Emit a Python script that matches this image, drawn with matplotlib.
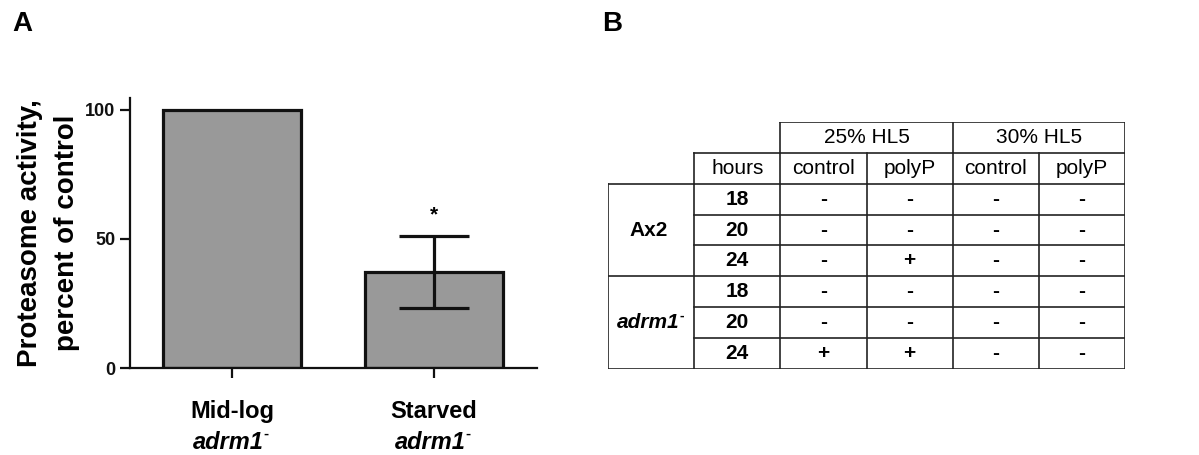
import matplotlib
matplotlib.use("Agg")
import matplotlib.pyplot as plt
from matplotlib.transforms import blended_transform_factory

plt.rcParams['font.family'] = ['Liberation Sans', 'DejaVu Sans']

# ---- data panel A ----
categories = ["Mid-log", "Starved"]
strain_label = "adrm1"
strain_sup = "-"
values = [100.0, 37.2]
err_low = [0.0, 13.9]
err_high = [0.0, 14.0]
show_err = [False, True]
signif = ["", "*"]
yticks = [0, 50, 100]

# ---- data panel B ----
group_headers = ["25% HL5", "30% HL5"]
sub_headers = ["hours", "control", "polyP", "control", "polyP"]
strains = ["Ax2", "adrm1"]
strain_italic = [False, True]
strain_sups = ["", "-"]
hours = ["18", "20", "24"]
results = {
    "Ax2": [["-", "-", "-", "-"],
            ["-", "-", "-", "-"],
            ["-", "+", "-", "-"]],
    "adrm1": [["-", "-", "-", "-"],
              ["-", "-", "-", "-"],
              ["+", "+", "-", "-"]],
}

fig = plt.figure(figsize=(11.99, 4.55), dpi=100)


def add_sup(ax_, text_artist, sup, fs):
    if sup:
        ax_.annotate(sup, xy=(1.0, 0.88), xycoords=text_artist, ha="left", va="center",
                     fontsize=fs, fontweight="bold")


# ---------------- Panel A ----------------
ax = fig.add_axes([0.1084, 0.1912, 0.3395, 0.5934])
x = list(range(len(categories)))
ax.bar(x, values, width=0.68, color="#999999", edgecolor="#111111", linewidth=2.3, zorder=2)
for xi, v, lo, hi, s in zip(x, values, err_low, err_high, show_err):
    if s:
        ax.errorbar([xi], [v], yerr=[[lo], [hi]], fmt="none", ecolor="#111111",
                    elinewidth=2.3, capsize=25, capthick=2.3, zorder=3)
for xi, v, hi, t in zip(x, values, err_high, signif):
    if t:
        ax.annotate(t, (xi, v + hi), xytext=(0, 8), textcoords="offset points",
                    ha="center", va="bottom", fontsize=15, fontweight="bold")
ax.set_xlim(-0.505, 1.51)
ax.set_ylim(0, 104.6)
ax.set_yticks(yticks)
ax.set_yticklabels([str(t) for t in yticks], fontsize=13, fontweight="bold")
ax.set_xticks(x)
ax.set_xticklabels([])
for s in ["top", "right"]:
    ax.spines[s].set_visible(False)
for s in ["left", "bottom"]:
    ax.spines[s].set_linewidth(1.6)
    ax.spines[s].set_color("#111111")
ax.tick_params(axis="both", direction="out", length=7, width=1.6, colors="#111111")
ax.set_ylabel("Proteasome activity,\npercent of control", fontsize=20,
              fontweight="bold", labelpad=4, linespacing=1.55)
tr = blended_transform_factory(ax.transData, ax.transAxes)
for xi, c in zip(x, categories):
    ax.text(xi, -0.12, c, transform=tr, ha="center", va="top",
            fontsize=17, fontweight="bold")
    t2 = ax.text(xi - 0.02, -0.235, strain_label, transform=tr, ha="center", va="top",
                 fontsize=17, fontweight="bold", fontstyle="italic")
    add_sup(ax, t2, strain_sup, 11)

fig.text(0.010, 0.975, "A", fontsize=20, fontweight="bold", va="top", ha="left")
fig.text(0.502, 0.975, "B", fontsize=20, fontweight="bold", va="top", ha="left")

# ---------------- Panel B (table) ----------------
tb = fig.add_axes([0.5071, 0.189, 0.4312, 0.5429])
ncol, nrow = 6, 8
tb.set_xlim(0, ncol)
tb.set_ylim(nrow, 0)
tb.axis("off")
lc = "#222222"
lw = 1.2


def hl(y, x0, x1):
    tb.plot([x0, x1], [y, y], color=lc, lw=lw, solid_capstyle="projecting")


def vl(xv, y0, y1):
    tb.plot([xv, xv], [y0, y1], color=lc, lw=lw, solid_capstyle="projecting")


hl(0, 2, 6)
for xv in [2, 4, 6]:
    vl(xv, 0, 1)
hl(1, 1, 6)
for xv in range(1, 7):
    vl(xv, 1, 2)
hl(2, 0, 6)
for xv in range(0, 7):
    vl(xv, 2, 8)
nh = len(hours)
for gi in range(len(strains)):
    top = 2 + gi * nh
    for r in range(1, nh):
        hl(top + r, 1, 6)
    hl(top + nh, 0, 6)

fs = 15
for gi, g in enumerate(group_headers):
    tb.text(2 + 2 * gi + 1, 0.5, g, ha="center", va="center", fontsize=fs)
for ci, h in enumerate(sub_headers):
    tb.text(1 + ci + 0.5, 1.5, h, ha="center", va="center", fontsize=fs)
for gi, s in enumerate(strains):
    top = 2 + gi * nh
    ts = tb.text(0.47, top + nh / 2, s, ha="center", va="center", fontsize=fs,
                 fontweight="bold", fontstyle="italic" if strain_italic[gi] else "normal")
    add_sup(tb, ts, strain_sups[gi], 10)
    for r, hr in enumerate(hours):
        tb.text(1.5, top + r + 0.5, hr, ha="center", va="center", fontsize=fs,
                fontweight="bold")
        for ci, val in enumerate(results[s][r]):
            tb.text(2 + ci + 0.5, top + r + 0.5, val, ha="center", va="center",
                    fontsize=fs, fontweight="bold")

fig.savefig("out.png", dpi=100)
